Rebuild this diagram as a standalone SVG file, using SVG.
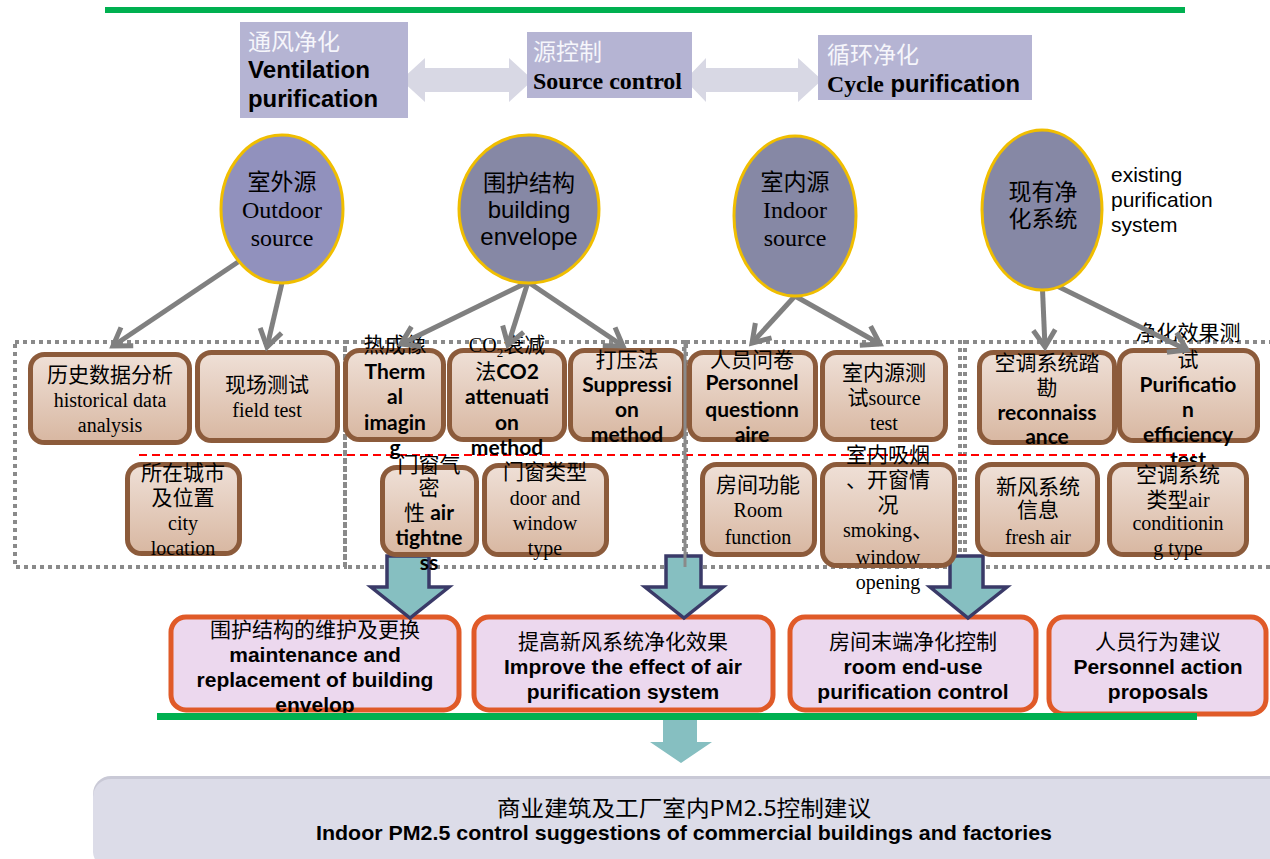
<svg xmlns="http://www.w3.org/2000/svg" width="1270" height="859" viewBox="0 0 1270 859">
<defs>
<linearGradient id="brown" x1="0" y1="0" x2="0" y2="1">
<stop offset="0" stop-color="#efe0d7"/>
<stop offset="1" stop-color="#d8b7a1"/>
</linearGradient>
<marker id="chev" markerUnits="userSpaceOnUse" markerWidth="26" markerHeight="26" refX="20" refY="12" orient="auto" overflow="visible">
<path d="M3,1 L20,12 L3,23" fill="none" stroke="#808080" stroke-width="5" stroke-linejoin="miter"/>
</marker>
<style>
.cj{font-family:"Noto Sans CJK SC",sans-serif;font-size:21px;fill:#000;text-anchor:middle}
.sf{font-family:"Liberation Serif","Noto Sans CJK SC",serif;font-size:20px;fill:#000;text-anchor:middle}
.bd{font-family:Lato,"Noto Sans CJK SC",sans-serif;font-weight:bold;font-size:21px;fill:#000;text-anchor:middle}
.ob{font-family:"Liberation Sans",sans-serif;font-weight:bold;font-size:21px;fill:#000;text-anchor:middle}
.nb{font-weight:normal;font-family:"Noto Sans CJK SC",sans-serif}
.bbox{fill:url(#brown);stroke:#8c5b3b;stroke-width:5}
.obox{fill:#ecd8ee;stroke:#e05a28;stroke-width:5}
.top{fill:#b5b4d3}
.wt{font-family:"Noto Sans CJK SC",sans-serif;font-size:23px;fill:#f6f6fb}
.dot{fill:none;stroke:#8a8a8a;stroke-width:4;stroke-dasharray:4 4}
.conn{fill:none;stroke:#808080;stroke-width:5;marker-end:url(#chev)}
.teal{fill:#86bfc1;stroke:#3a3a68;stroke-width:3.5}
.ell{stroke:#f0be00;stroke-width:3}
</style>
</defs>
<rect width="1270" height="859" fill="#ffffff"/>
<rect x="105" y="7" width="1080" height="6" fill="#00b050"/>

<!-- top row -->
<g id="dbl-arrows">
<path d="M401,80 L425,58 L425,68 L509,68 L509,58 L533,80 L509,102 L509,92 L425,92 L425,102 Z" fill="#d8d8e4"/>
<path d="M685,80 L706,58 L706,68 L798,68 L798,58 L822,80 L798,102 L798,92 L706,92 L706,102 Z" fill="#d8d8e4"/>
</g>
<g id="ventilation">
<rect class="top" x="240" y="22" width="168" height="96"/>
<text class="wt" x="248" y="50">通风净化</text>
<text x="248" y="78" textLength="122" lengthAdjust="spacingAndGlyphs" style="font-family:'Liberation Sans',sans-serif;font-weight:bold;font-size:23px">Ventilation</text>
<text x="248" y="107" textLength="130" lengthAdjust="spacingAndGlyphs" style="font-family:'Liberation Sans',sans-serif;font-weight:bold;font-size:23px">purification</text>
</g>
<g id="source-control">
<rect class="top" x="527" y="32" width="165" height="66"/>
<text class="wt" x="533" y="60">源控制</text>
<text x="533" y="89" textLength="149" lengthAdjust="spacingAndGlyphs" style="font-family:'Liberation Serif',serif;font-weight:bold;font-size:23px">Source control</text>
</g>
<g id="cycle">
<rect class="top" x="818" y="35" width="214" height="65"/>
<text class="wt" x="827" y="63">循环净化</text>
<text x="827" y="92" textLength="193" lengthAdjust="spacingAndGlyphs" style="font-family:'Liberation Sans',sans-serif;font-weight:bold;font-size:23px"><tspan style="font-family:'Liberation Serif',serif">Cycle</tspan> purification</text>
</g>

<!-- dotted groups -->
<g id="groups">
<rect class="dot" x="15" y="342" width="330" height="225"/>
<rect class="dot" x="345" y="342" width="339" height="225"/>
<rect class="dot" x="686" y="342" width="274" height="225"/>
<rect class="dot" x="965" y="342" width="320" height="225"/>
<line x1="139" y1="455" x2="1195" y2="455" stroke="#ff0000" stroke-width="2" stroke-dasharray="8 5"/>
</g>

<!-- result boxes -->
<g id="r1"><rect class="obox" x="171" y="617" width="288" height="93" rx="15"/>
<text class="cj" x="315" y="637">围护结构的维护及更换</text>
<text class="ob" x="315" y="662">maintenance and</text>
<text class="ob" x="315" y="687">replacement of building</text>
<text class="ob" x="315" y="712">envelop</text></g>
<g id="r2"><rect class="obox" x="474" y="617" width="299" height="93" rx="15"/>
<text class="cj" x="623" y="649">提高新风系统净化效果</text>
<text class="ob" x="623" y="674">Improve the effect of air</text>
<text class="ob" x="623" y="699">purification system</text></g>
<g id="r3"><rect class="obox" x="790" y="617" width="246" height="93" rx="15"/>
<text class="cj" x="913" y="649">房间末端净化控制</text>
<text class="ob" x="913" y="674">room end-use</text>
<text class="ob" x="913" y="699">purification control</text></g>
<g id="r4"><rect class="obox" x="1049" y="617" width="217" height="97" rx="15"/>
<text class="cj" x="1158" y="649">人员行为建议</text>
<text class="ob" x="1158" y="674">Personnel action</text>
<text class="ob" x="1158" y="699">proposals</text></g>

<rect x="157" y="713" width="1040" height="7" fill="#00b050"/>

<g id="big-arrows">
<path class="teal" d="M387,556 L429,556 L429,587 L449,587 L410,618 L371,587 L387,587 Z"/>
<path class="teal" d="M666,556 L701,556 L701,587 L723,587 L684,618 L645,587 L666,587 Z"/>
<path class="teal" d="M950,556 L983,556 L983,587 L1007,587 L968,618 L930,587 L950,587 Z"/>
<path d="M663,720 L697,720 L697,742 L712,742 L681,763 L650,742 L663,742 Z" fill="#86bfc1"/>
</g>

<!-- brown boxes -->
<g id="b-history"><rect class="bbox" x="30.5" y="354.5" width="159" height="88" rx="14"/>
<text class="cj" x="110" y="382">历史数据分析</text>
<text class="sf" x="110" y="407">historical data</text>
<text class="sf" x="110" y="432">analysis</text></g>
<g id="b-field"><rect class="bbox" x="197.5" y="352.5" width="140" height="88" rx="14"/>
<text class="cj" x="267" y="392">现场测试</text>
<text class="sf" x="267" y="417">field test</text></g>
<g id="b-thermal"><rect class="bbox" x="345.5" y="350.5" width="98" height="89" rx="14"/>
<text class="cj" x="395" y="352">热成像</text>
<text class="bd" x="395" y="379">Therm</text>
<text class="bd" x="395" y="404">al</text>
<text class="bd" x="395" y="430">imagin</text>
<text class="bd" x="395" y="455">g</text></g>
<g id="b-co2"><rect class="bbox" x="449.5" y="350.5" width="115" height="89" rx="14"/>
<text class="cj" x="507" y="352"><tspan style="font-family:'Liberation Serif',serif;font-size:20px">CO</tspan><tspan style="font-family:'Liberation Serif',serif;font-size:13px" dy="5">2</tspan><tspan dy="-5">衰减</tspan></text>
<text class="bd" x="507" y="379"><tspan class="nb">法</tspan>CO2</text>
<text class="bd" x="507" y="404">attenuati</text>
<text class="bd" x="507" y="430">on</text>
<text class="bd" x="507" y="455">method</text></g>
<g id="b-suppress"><rect class="bbox" x="570.5" y="350.5" width="114" height="89" rx="14"/>
<text class="cj" x="627" y="367">打压法</text>
<text class="bd" x="627" y="392">Suppressi</text>
<text class="bd" x="627" y="417">on</text>
<text class="bd" x="627" y="442">method</text></g>
<g id="b-quest"><rect class="bbox" x="689.5" y="352.5" width="126" height="87" rx="14"/>
<text class="cj" x="752" y="367">人员问卷</text>
<text class="bd" x="752" y="390">Personnel</text>
<text class="bd" x="752" y="417">questionn</text>
<text class="bd" x="752" y="442">aire</text></g>
<g id="b-srctest"><rect class="bbox" x="822.5" y="352.5" width="123" height="87" rx="14"/>
<text class="cj" x="884" y="380">室内源测</text>
<text class="sf" x="884" y="405"><tspan style="font-size:21px">试</tspan>source</text>
<text class="sf" x="884" y="430">test</text></g>
<g id="b-recon"><rect class="bbox" x="979.5" y="352.5" width="135" height="90" rx="14"/>
<text class="cj" x="1047" y="370">空调系统踏</text>
<text class="cj" x="1047" y="395">勘</text>
<text class="bd" x="1047" y="420">reconnaiss</text>
<text class="bd" x="1047" y="444">ance</text></g>
<g id="b-effic"><rect class="bbox" x="1119.5" y="350.5" width="138" height="90" rx="14"/>
<text class="cj" x="1188" y="340">净化效果测</text>
<text class="cj" x="1188" y="367">试</text>
<text class="bd" x="1188" y="392">Purificatio</text>
<text class="bd" x="1188" y="417">n</text>
<text class="bd" x="1188" y="442">efficiency</text>
<text class="bd" x="1188" y="467">test</text></g>

<g id="b-city"><rect class="bbox" x="127.5" y="464.5" width="112" height="89" rx="14"/>
<text class="cj" x="183" y="480">所在城市</text>
<text class="cj" x="183" y="505">及位置</text>
<text class="sf" x="183" y="530">city</text>
<text class="sf" x="183" y="555">location</text></g>
<g id="b-airtight"><rect class="bbox" x="382.5" y="467.5" width="94" height="87" rx="14"/>
<text class="cj" x="429" y="472">门窗气</text>
<text class="cj" x="429" y="495">密</text>
<text class="bd" x="429" y="520"><tspan class="nb">性</tspan> air</text>
<text class="bd" x="429" y="545">tightne</text>
<text class="bd" x="429" y="570">ss</text></g>
<g id="b-doortype"><rect class="bbox" x="484.5" y="465.5" width="122" height="89" rx="14"/>
<text class="cj" x="545" y="479">门窗类型</text>
<text class="sf" x="545" y="505">door and</text>
<text class="sf" x="545" y="530">window</text>
<text class="sf" x="545" y="555">type</text></g>
<g id="b-room"><rect class="bbox" x="702.5" y="464.5" width="112" height="90" rx="14"/>
<text class="cj" x="758" y="492">房间功能</text>
<text class="sf" x="758" y="517">Room</text>
<text class="sf" x="758" y="544">function</text></g>
<g id="b-smoke"><rect class="bbox" x="822.5" y="464.5" width="132" height="101" rx="14"/>
<text class="cj" x="888" y="462">室内吸烟</text>
<text class="cj" x="888" y="487">、开窗情</text>
<text class="cj" x="888" y="512">况</text>
<text class="sf" x="888" y="537">smoking<tspan style="font-size:21px">、</tspan></text>
<text class="sf" x="888" y="564">window</text>
<text class="sf" x="888" y="589">opening</text></g>
<g id="b-fresh"><rect class="bbox" x="977.5" y="464.5" width="120" height="90" rx="14"/>
<text class="cj" x="1038" y="494">新风系统</text>
<text class="cj" x="1038" y="517">信息</text>
<text class="sf" x="1038" y="544">fresh air</text></g>
<g id="b-actype"><rect class="bbox" x="1109.5" y="464.5" width="137" height="90" rx="14"/>
<text class="cj" x="1178" y="482">空调系统</text>
<text class="sf" x="1178" y="507"><tspan style="font-size:21px">类型</tspan>air</text>
<text class="sf" x="1178" y="530">conditionin</text>
<text class="sf" x="1178" y="555">g type</text></g>

<line x1="685" y1="342" x2="685" y2="567" stroke="#8a8a8a" stroke-width="3"/>

<!-- connectors -->
<g id="connectors">
<line class="conn" x1="238" y1="262" x2="113" y2="346"/>
<line class="conn" x1="282" y1="283" x2="267" y2="347"/>
<line class="conn" x1="528" y1="282" x2="401" y2="344"/>
<line class="conn" x1="528" y1="282" x2="508" y2="345"/>
<line class="conn" x1="528" y1="282" x2="623" y2="346"/>
<line class="conn" x1="795" y1="296" x2="752" y2="343"/>
<line class="conn" x1="795" y1="296" x2="880" y2="344"/>
<line class="conn" x1="1042" y1="278" x2="1045" y2="347"/>
<line class="conn" x1="1049" y1="282" x2="1187" y2="350"/>
</g>

<!-- source ellipses -->
<g id="outdoor"><ellipse class="ell" cx="282" cy="209" rx="61" ry="74" fill="#9191bd"/>
<text class="cj" x="282" y="190" style="font-size:23px">室外源</text>
<text class="sf" x="282" y="218" style="font-size:24px">Outdoor</text>
<text class="sf" x="282" y="246" style="font-size:24px">source</text></g>
<g id="envelope"><ellipse class="ell" cx="529" cy="209" rx="70" ry="74" fill="#8688a5"/>
<text class="cj" x="529" y="191" style="font-size:23px">围护结构</text>
<text x="529" y="218" style="font-family:'Liberation Sans',sans-serif;font-size:24px;text-anchor:middle">building</text>
<text x="529" y="245" style="font-family:'Liberation Sans',sans-serif;font-size:24px;text-anchor:middle">envelope</text></g>
<g id="indoor"><ellipse class="ell" cx="795" cy="216" rx="61" ry="80" fill="#8688a5"/>
<text class="cj" x="795" y="190" style="font-size:23px">室内源</text>
<text class="sf" x="795" y="218" style="font-size:24px">Indoor</text>
<text class="sf" x="795" y="246" style="font-size:24px">source</text></g>
<g id="existing"><ellipse class="ell" cx="1042" cy="210" rx="60" ry="80" fill="#8688a5"/>
<text class="cj" x="1043" y="200" style="font-size:23px">现有净</text>
<text class="cj" x="1043" y="227" style="font-size:23px">化系统</text>
<text x="1111" y="182" style="font-family:'Liberation Sans',sans-serif;font-size:21px">existing</text>
<text x="1111" y="207" style="font-family:'Liberation Sans',sans-serif;font-size:21px">purification</text>
<text x="1111" y="232" style="font-family:'Liberation Sans',sans-serif;font-size:21px">system</text></g>

<!-- bottom conclusion -->
<g id="conclusion">
<rect x="93" y="776" width="1200" height="90" rx="18" fill="#c9c9d6"/>
<rect x="93" y="779" width="1200" height="90" rx="18" fill="#dcdce8"/>
<text class="cj" x="684" y="816" style="font-size:22px" textLength="374" lengthAdjust="spacingAndGlyphs">商业建筑及工厂室内PM2.5控制建议</text>
<text class="ob" x="684" y="840" textLength="736" lengthAdjust="spacingAndGlyphs">Indoor PM2.5 control suggestions of commercial buildings and factories</text>
</g>
</svg>
